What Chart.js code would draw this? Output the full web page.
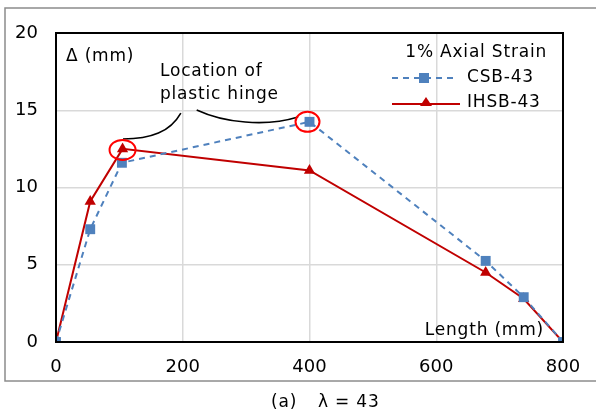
<!DOCTYPE html>
<html>
<head>
<meta charset="utf-8">
<script src="https://cdn.jsdelivr.net/npm/chart.js@4"></script>
<style>
  body { margin: 0; background: #fff; }
  #wrap { position: relative; width: 596px; height: 414px; }
</style>
</head>
<body>
<div id="wrap"><canvas id="chart" width="596" height="414"></canvas></div>
<script>
// data
let csbLength = [0, 54, 104, 400, 678, 738, 800];
let csbDelta = [0, 7.3, 11.6, 14.25, 5.25, 2.9, 0];
let ihsbLength = [0, 54, 105, 400, 678, 738, 800];
let ihsbDelta = [0, 9.1, 12.5, 11.1, 4.5, 2.8, 0];
let xTicks = [0, 200, 400, 600, 800];
let yTicks = [0, 5, 10, 15, 20];

let font = 'DejaVu Sans';

function toPoints(xs, ys) {
    return xs.map((x, i) => ({ x: x, y: ys[i] }));
}

// extra drawing: frame, braces, circles, legend, labels
const extras = {
    id: 'extras',
    afterDraw(chart) {
        const ctx = chart.ctx;
        const a = chart.chartArea;
        const xs = chart.scales.x;
        const ys = chart.scales.y;
        const px = v => xs.getPixelForValue(v);
        const py = v => ys.getPixelForValue(v);

        ctx.save();
        // outer gray frame
        ctx.strokeStyle = '#8c8c8c';
        ctx.lineWidth = 1.5;
        ctx.strokeRect(5, 8, 600, 373);

        // chart area box
        ctx.strokeStyle = '#000';
        ctx.lineWidth = 2;
        ctx.strokeRect(a.left, a.top, a.right - a.left, a.bottom - a.top);

        // hinge brace lines
        ctx.lineWidth = 1.6;
        ctx.beginPath();
        ctx.moveTo(px(105.7), py(13.14));
        ctx.bezierCurveTo(px(150), py(13.14), px(180), py(13.6), px(197), py(14.82));
        ctx.stroke();
        ctx.beginPath();
        ctx.moveTo(px(222), py(15.02));
        ctx.bezierCurveTo(px(265), py(14.2), px(330), py(13.9), px(382), py(14.56));
        ctx.stroke();

        // red circles around hinge points
        ctx.strokeStyle = '#ff0000';
        ctx.lineWidth = 2;
        ctx.beginPath();
        ctx.ellipse(px(ihsbLength[2]), py(ihsbDelta[2]) + 1, 13, 10, 0, 0, Math.PI * 2);
        ctx.stroke();
        ctx.beginPath();
        ctx.ellipse(px(csbLength[3]) - 2, py(csbDelta[3]), 12, 10, 0, 0, Math.PI * 2);
        ctx.stroke();

        // texts
        ctx.fillStyle = '#000';
        ctx.font = '17px "' + font + '"';
        ctx.letterSpacing = '0.8px';
        ctx.textBaseline = 'middle';
        ctx.textAlign = 'left';
        ctx.fillText('\u0394 (mm)', a.left + 10, a.top + 24);
        ctx.fillText('Location of', 160, 72);
        ctx.fillText('plastic hinge', 160, 95);
        ctx.textAlign = 'right';
        ctx.fillText('Length (mm)', a.right - 19, a.bottom - 11);

        // legend
        ctx.fillText('1% Axial Strain', 547, 53);
        ctx.textAlign = 'left';
        ctx.fillText('CSB-43', 467, 78);
        ctx.fillText('IHSB-43', 467, 103);

        ctx.strokeStyle = '#4f81bd';
        ctx.lineWidth = 2;
        ctx.setLineDash([6, 5]);
        ctx.beginPath();
        ctx.moveTo(392, 78);
        ctx.lineTo(456, 78);
        ctx.stroke();
        ctx.setLineDash([]);
        ctx.fillStyle = '#4f81bd';
        ctx.fillRect(419, 73, 10, 10);

        ctx.strokeStyle = '#c00000';
        ctx.beginPath();
        ctx.moveTo(392, 104);
        ctx.lineTo(460, 104);
        ctx.stroke();
        ctx.fillStyle = '#c00000';
        ctx.beginPath();
        ctx.moveTo(426, 97);
        ctx.lineTo(432, 106);
        ctx.lineTo(420, 106);
        ctx.closePath();
        ctx.fill();

        // caption
        ctx.fillStyle = '#000';
        ctx.textAlign = 'left';
        ctx.fillText('(a)', 271, 403);
        ctx.fillText('\u03bb = 43', 318, 403);
        ctx.restore();
    }
};

new Chart(document.getElementById('chart'), {
    type: 'scatter',
    data: {
        datasets: [
            {
                label: 'CSB-43',
                data: toPoints(csbLength, csbDelta),
                showLine: true,
                borderColor: '#4f81bd',
                backgroundColor: '#4f81bd',
                borderWidth: 2,
                borderDash: [6, 5],
                pointStyle: 'rect',
                pointRadius: 7,
                pointBorderWidth: 0
            },
            {
                label: 'IHSB-43',
                data: toPoints(ihsbLength, ihsbDelta),
                showLine: true,
                borderColor: '#c00000',
                backgroundColor: '#c00000',
                borderWidth: 2,
                pointStyle: 'triangle',
                pointRadius: 6.5,
                pointBorderWidth: 0
            }
        ]
    },
    options: {
        responsive: false,
        animation: false,
        layout: { padding: { left: 0, right: 33, top: 33, bottom: 0 } },
        plugins: {
            legend: { display: false },
            tooltip: { enabled: false }
        },
        scales: {
            x: {
                type: 'linear',
                min: 0,
                max: 800,
                afterBuildTicks: s => { s.ticks = xTicks.map(v => ({ value: v })); },
                afterFit: s => { s.height = 72; },
                ticks: { color: '#000', font: { family: font, size: 18 }, padding: 15 },
                grid: { color: '#d9d9d9', lineWidth: 1.5, drawTicks: false },
                border: { color: '#000', width: 2 }
            },
            y: {
                min: 0,
                max: 20,
                afterBuildTicks: s => { s.ticks = yTicks.map(v => ({ value: v })); },
                afterFit: s => { s.width = 56; },
                ticks: { color: '#000', font: { family: font, size: 18 }, padding: 18 },
                grid: { color: '#d9d9d9', lineWidth: 1.5, drawTicks: false },
                border: { color: '#000', width: 2 }
            }
        }
    },
    plugins: [extras]
});
</script>
</body>
</html>
